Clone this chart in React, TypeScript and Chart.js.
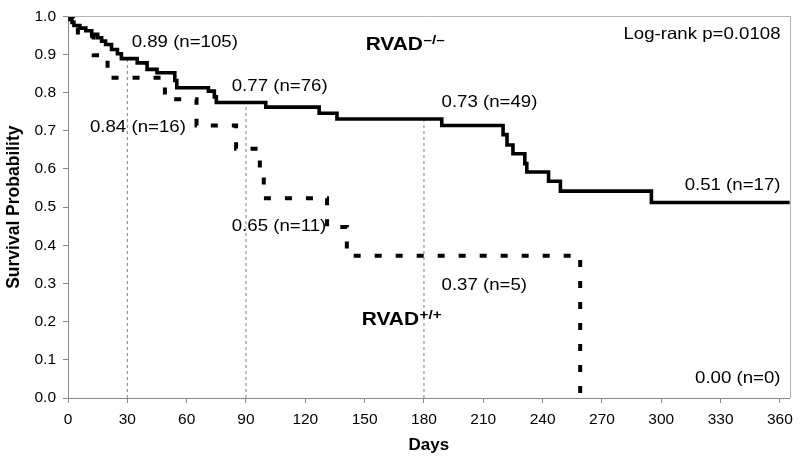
import React, { useEffect, useRef } from "react";
import { Chart, registerables } from "chart.js";

Chart.register(...registerables);

// RVAD-/- (solid) Kaplan-Meier curve: day of event, survival after event
const solidDays = [0, 1, 2, 3, 6, 9, 12, 15, 17, 19, 22, 25, 27, 35, 40, 45, 54, 55, 71, 74, 75, 100, 127, 136, 189, 220, 222, 225, 231, 232, 243, 249, 295, 365];
const solidSurv = [1.0, 0.992, 0.984, 0.976, 0.969, 0.962, 0.953, 0.944, 0.935, 0.926, 0.913, 0.902, 0.889, 0.878, 0.861, 0.852, 0.832, 0.813, 0.804, 0.789, 0.774, 0.762, 0.746, 0.731, 0.714, 0.690, 0.663, 0.640, 0.614, 0.592, 0.568, 0.542, 0.512, 0.512];

// RVAD+/+ (dashed) Kaplan-Meier curve
const dashedDays = [0, 5, 13, 20, 49, 65, 85, 97, 99, 131, 141, 259];
const dashedSurv = [1.0, 0.948, 0.898, 0.839, 0.783, 0.714, 0.653, 0.584, 0.523, 0.448, 0.373, 0.0];

// reference days with dotted drop lines
const refDays = [30, 90, 180];

// axis ticks
const xTickValues = [0, 30, 60, 90, 120, 150, 180, 210, 240, 270, 300, 330, 360];
const yTickValues = [0, 0.1, 0.2, 0.3, 0.4, 0.5, 0.6, 0.7, 0.8, 0.9, 1.0];

// annotation texts
const labelTexts = [
  "0.89 (n=105)",
  "0.84 (n=16)",
  "0.77 (n=76)",
  "0.73 (n=49)",
  "0.65 (n=11)",
  "0.37 (n=5)",
  "0.51 (n=17)",
  "0.00 (n=0)",
  "Log-rank p=0.0108",
];
// anchor of each annotation (data units) and alignment
const labelDays = [32.2, 11.1, 82.8, 188.9, 82.8, 188.9, 360.3, 360.3, 360.3];
const labelProbs = [0.9306, 0.709, 0.8173, 0.774, 0.449, 0.296, 0.558, 0.052, 0.9519];
const labelAligns: CanvasTextAlign[] = ["left", "left", "left", "left", "left", "left", "right", "right", "right"];

const groupNames = ["RVAD", "RVAD"];
const groupSups = ["\u2013/\u2013", "+/+"];
const groupDays = [150.5, 148.5];
const groupProbs = [0.9257, 0.205];

const FONT = "'Liberation Sans', Arial, Helvetica, sans-serif";
const STRETCH = 1.13;

function survAt(days: number[], surv: number[], d: number): number {
  let v = surv[0];
  for (let i = 0; i < days.length; i++) {
    if (days[i] <= d) v = surv[i];
  }
  return v;
}

const kmPlugin = {
  id: "kmLabels",
  afterDatasetsDraw(chart: any) {
    const { ctx, chartArea, scales } = chart;
    const xs = scales.x;
    const ys = scales.y;
    ctx.save();
    // plot area border (top & right)
    ctx.strokeStyle = "#b4b4b4";
    ctx.lineWidth = 1;
    ctx.beginPath();
    ctx.moveTo(chartArea.left, Math.round(chartArea.top) + 0.5);
    ctx.lineTo(Math.round(chartArea.right) + 0.5, Math.round(chartArea.top) + 0.5);
    ctx.lineTo(Math.round(chartArea.right) + 0.5, chartArea.bottom);
    ctx.stroke();

    ctx.fillStyle = "#000";
    ctx.textBaseline = "middle";
    for (let i = 0; i < labelTexts.length; i++) {
      const px = xs.getPixelForValue(labelDays[i]);
      const py = ys.getPixelForValue(labelProbs[i]);
      ctx.save();
      ctx.translate(px, py);
      ctx.scale(STRETCH, 1);
      ctx.font = `16.5px ${FONT}`;
      ctx.textAlign = labelAligns[i];
      ctx.fillText(labelTexts[i], 0, 0);
      ctx.restore();
    }
    for (let i = 0; i < groupNames.length; i++) {
      const px = xs.getPixelForValue(groupDays[i]);
      const py = ys.getPixelForValue(groupProbs[i]);
      ctx.save();
      ctx.translate(px, py);
      ctx.scale(STRETCH, 1);
      ctx.textAlign = "left";
      ctx.font = `bold 18.5px ${FONT}`;
      ctx.fillText(groupNames[i], 0, 0);
      const w = ctx.measureText(groupNames[i]).width;
      ctx.font = `bold 13.5px ${FONT}`;
      ctx.fillText(groupSups[i], w + 0.5, -4.5);
      ctx.restore();
    }
    ctx.restore();
  },
};

export default function App() {
  const canvasRef = useRef<HTMLCanvasElement | null>(null);

  useEffect(() => {
    if (!canvasRef.current) return;
    const solidData = solidDays.map((d, i) => ({ x: d, y: solidSurv[i] }));
    const dashedData = dashedDays.map((d, i) => ({ x: d, y: dashedSurv[i] }));
    const refSets = refDays.map((d) => ({
      type: "line" as const,
      data: [
        { x: d, y: 0 },
        { x: d, y: survAt(solidDays, solidSurv, d) },
      ],
      borderColor: "#808080",
      borderWidth: 1,
      borderDash: [3, 3],
      pointRadius: 0,
      fill: false,
      order: 3,
    }));

    const chart = new Chart(canvasRef.current, {
      type: "line",
      data: {
        datasets: [
          {
            data: solidData,
            borderColor: "#000",
            borderWidth: 3.6,
            stepped: "before",
            pointRadius: 0,
            fill: false,
            order: 1,
            borderCapStyle: "butt",
            borderJoinStyle: "miter",
          } as any,
          {
            data: dashedData,
            borderColor: "#000",
            borderWidth: 4,
            borderDash: [7, 14],
            stepped: "before",
            pointRadius: 0,
            fill: false,
            order: 2,
            borderCapStyle: "butt",
            borderJoinStyle: "miter",
          } as any,
          ...refSets,
        ],
      },
      options: {
        animation: false,
        responsive: false,
        devicePixelRatio: 1,
        layout: { padding: { top: 13, right: 10, left: 0, bottom: 0 } },
        plugins: {
          legend: { display: false },
          tooltip: { enabled: false },
        },
        scales: {
          x: {
            type: "linear",
            min: 0,
            max: 365,
            afterBuildTicks: (scale: any) => {
              scale.ticks = xTickValues.map((v) => ({ value: v }));
            },
            afterFit: (scale: any) => {
              scale.height = 71;
            },
            grid: {
              drawOnChartArea: false,
              drawTicks: true,
              tickLength: 5,
              color: "#888",
            },
            border: { color: "#888", width: 1 },
            ticks: {
              color: "#000",
              font: { family: FONT, size: 15.5 },
              padding: 7,
              maxRotation: 0,
              autoSkip: false,
              callback: (v: any) => String(v),
            },
            title: {
              display: true,
              text: "Days",
              color: "#000",
              font: { family: FONT, size: 17, weight: "bold" },
              padding: { top: 0, bottom: 13 },
            },
          },
          y: {
            type: "linear",
            min: 0,
            max: 1,
            afterBuildTicks: (scale: any) => {
              scale.ticks = yTickValues.map((v) => ({ value: v }));
            },
            afterFit: (scale: any) => {
              scale.width = 68;
            },
            grid: {
              drawOnChartArea: false,
              drawTicks: true,
              tickLength: 5,
              color: "#888",
            },
            border: { color: "#888", width: 1 },
            ticks: {
              color: "#000",
              font: { family: FONT, size: 15.5 },
              padding: 7,
              autoSkip: false,
              callback: (v: any) => Number(v).toFixed(1),
            },
            title: {
              display: true,
              text: "Survival Probability",
              color: "#000",
              font: { family: FONT, size: 17.5, weight: "bold" },
              padding: { top: 4, bottom: 0 },
            },
          },
        },
      },
      plugins: [kmPlugin],
    });
    return () => chart.destroy();
  }, []);

  return (
    <div style={{ position: "absolute", left: 0, top: 0, width: 800, height: 469, background: "#fff" }}>
      <canvas ref={canvasRef} width={800} height={469} style={{ display: "block", width: 800, height: 469 }} />
    </div>
  );
}
